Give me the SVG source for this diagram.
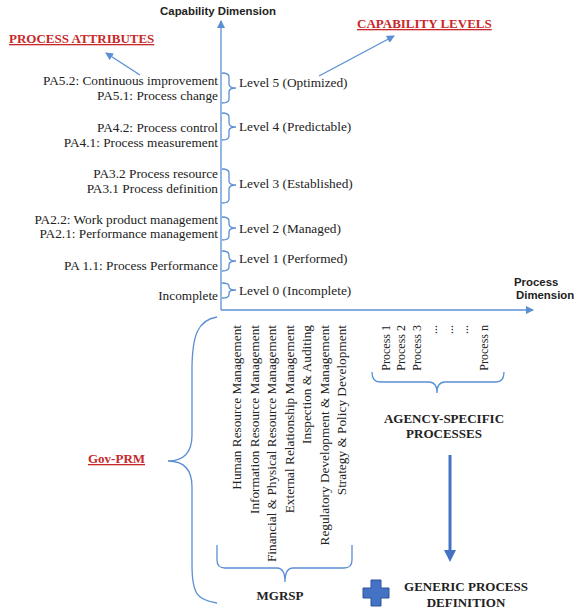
<svg xmlns="http://www.w3.org/2000/svg" width="574" height="612" viewBox="0 0 574 612">
<defs>
<marker id="ah" markerWidth="8" markerHeight="8" refX="7" refY="4" orient="auto" markerUnits="userSpaceOnUse">
<path d="M0,0 L8,4 L0,8 Z" fill="#5B8FD4"/>
</marker>
<style>
.ln{fill:none;stroke:#5B8FD4;stroke-width:1.3}
.t{font-family:"Liberation Serif","Times New Roman",serif;font-size:13.3px;fill:#222}
.tr{font-family:"Liberation Serif","Times New Roman",serif;font-size:13.3px;fill:#222;text-anchor:end}
.sm{font-family:"Liberation Serif","Times New Roman",serif;font-size:12px;fill:#222;text-anchor:end}
.rot{font-family:"Liberation Serif","Times New Roman",serif;font-size:13.3px;fill:#222;text-anchor:end}
.b{font-family:"Liberation Serif","Times New Roman",serif;font-size:13px;font-weight:bold;fill:#222;text-anchor:middle}
.red{font-family:"Liberation Serif","Times New Roman",serif;font-size:13px;font-weight:bold;fill:#C8282A;text-decoration:underline}
.sans{font-family:"Liberation Sans",Arial,sans-serif;font-size:11.4px;font-weight:bold;fill:#222}
</style>
</defs>
<rect width="574" height="612" fill="#fff"/>

<g id="connectors">
<line class="ln" x1="221" y1="310" x2="221" y2="21" marker-end="url(#ah)"/>
<line class="ln" x1="221" y1="310" x2="533" y2="310" marker-end="url(#ah)"/>
<line class="ln" x1="140" y1="75" x2="106" y2="53" marker-end="url(#ah)"/>
<line class="ln" x1="319" y1="76" x2="394" y2="36" marker-end="url(#ah)"/>
<path class="ln" d="M222,73 Q229,73 229,77 L229,84 Q229,88 236,88 Q229,88 229,92 L229,99 Q229,103 222,103"/>
<path class="ln" d="M222,113 Q229,113 229,117 L229,123 Q229,127 236,127 Q229,127 229,131 L229,136 Q229,140 222,140"/>
<path class="ln" d="M222,169 Q229,169 229,173 L229,181 Q229,185 236,185 Q229,185 229,189 L229,199 Q229,203 222,203"/>
<path class="ln" d="M222,217 Q229,217 229,221 L229,224 Q229,228 236,228 Q229,228 229,232 L229,236 Q229,240 222,240"/>
<path class="ln" d="M222,251 Q229,251 229,255 L229,257 Q229,261 236,261 Q229,261 229,265 L229,267 Q229,271 222,271"/>
<path class="ln" d="M222,283 Q229,283 229,286 L229,287 Q229,290 236,290 Q229,290 229,293 L229,295 Q229,298 222,298"/>
<path class="ln" d="M372,372 Q372,382 380,382 L429,382 Q437,382 437,393 Q437,382 445,382 L496,382 Q504,382 504,372"/>
<path class="ln" d="M217,545 L217,560 Q217,568 225,568 L277,568 Q285,568 285,582 Q285,568 293,568 L344,568 Q352,568 352,560 L352,545"/>
<path class="ln" d="M217,317 C198,320 192,335 192,370 L192,435 C192,452 185,461 168,461 C185,461 192,470 192,487 L192,565 C192,595 198,600 217,603"/>
<line x1="450" y1="455" x2="450" y2="551" stroke="#4472C4" stroke-width="3"/>
<polygon points="444,550 456,550 450,562" fill="#4472C4"/>
</g>

<g id="capability-dimension"><text class="sans" x="218" y="15" text-anchor="middle">Capability Dimension</text></g>
<g id="process-dimension"><text class="sans" x="514" y="286">Process</text><text class="sans" x="516" y="299">Dimension</text></g>
<g id="process-attributes"><text class="red" x="9" y="43">PROCESS ATTRIBUTES</text></g>
<g id="capability-levels"><text class="red" x="357" y="28">CAPABILITY LEVELS</text></g>
<g id="gov-prm"><text class="red" x="88" y="463">Gov-PRM</text></g>

<g id="pa5"><text class="tr" x="218" y="85">PA5.2: Continuous improvement</text><text class="tr" x="218" y="100">PA5.1: Process change</text></g>
<g id="pa4"><text class="tr" x="218" y="132">PA4.2: Process control</text><text class="tr" x="218" y="147">PA4.1: Process measurement</text></g>
<g id="pa3"><text class="tr" x="218" y="178">PA3.2 Process resource</text><text class="tr" x="218" y="193">PA3.1 Process definition</text></g>
<g id="pa2"><text class="tr" x="218" y="224">PA2.2: Work product management</text><text class="tr" x="218" y="238">PA2.1: Performance management</text></g>
<g id="pa1"><text class="tr" x="218" y="270">PA 1.1: Process Performance</text></g>
<g id="pa0"><text class="tr" x="218" y="300">Incomplete</text></g>

<g id="level5"><text class="t" x="239" y="87">Level 5 (Optimized)</text></g>
<g id="level4"><text class="t" x="239" y="131">Level 4 (Predictable)</text></g>
<g id="level3"><text class="t" x="239" y="188">Level 3 (Established)</text></g>
<g id="level2"><text class="t" x="239" y="233">Level 2 (Managed)</text></g>
<g id="level1"><text class="t" x="239" y="263">Level 1 (Performed)</text></g>
<g id="level0"><text class="t" x="239" y="295">Level 0 (Incomplete)</text></g>

<g id="mgrsp-processes">
<text class="rot" transform="translate(241,325) rotate(-90)">Human Resource Management</text>
<text class="rot" transform="translate(258.5,325) rotate(-90)">Information Resource Management</text>
<text class="rot" transform="translate(276,325) rotate(-90)">Financial &amp; Physical Resource Management</text>
<text class="rot" transform="translate(293.5,325) rotate(-90)">External Relationship Management</text>
<text class="rot" transform="translate(311,325) rotate(-90)">Inspection &amp; Auditing</text>
<text class="rot" transform="translate(328.5,325) rotate(-90)">Regulatory Development &amp; Management</text>
<text class="rot" transform="translate(346,325) rotate(-90)">Strategy &amp; Policy Development</text>
</g>
<g id="mgrsp"><text class="b" x="280" y="600">MGRSP</text></g>

<g id="agency-processes">
<text class="sm" transform="translate(390,325) rotate(-90)">Process 1</text>
<text class="sm" transform="translate(405,325) rotate(-90)">Process 2</text>
<text class="sm" transform="translate(421,325) rotate(-90)">Process 3</text>
<text class="sm" transform="translate(437,325) rotate(-90)">...</text>
<text class="sm" transform="translate(453,325) rotate(-90)">...</text>
<text class="sm" transform="translate(468,325) rotate(-90)">...</text>
<text class="sm" transform="translate(488,325) rotate(-90)">Process n</text>
</g>
<g id="agency-specific"><text class="b" x="444" y="423">AGENCY-SPECIFIC</text><text class="b" x="444" y="438">PROCESSES</text></g>

<g id="plus"><polygon points="371,580 381,580 381,588 389,588 389,598 381,598 381,606 371,606 371,598 363,598 363,588 371,588" fill="#4472C4" stroke="#2F5597" stroke-width="1"/></g>
<g id="generic-process"><text class="b" x="466" y="591">GENERIC PROCESS</text><text class="b" x="466" y="607">DEFINITION</text></g>
</svg>
